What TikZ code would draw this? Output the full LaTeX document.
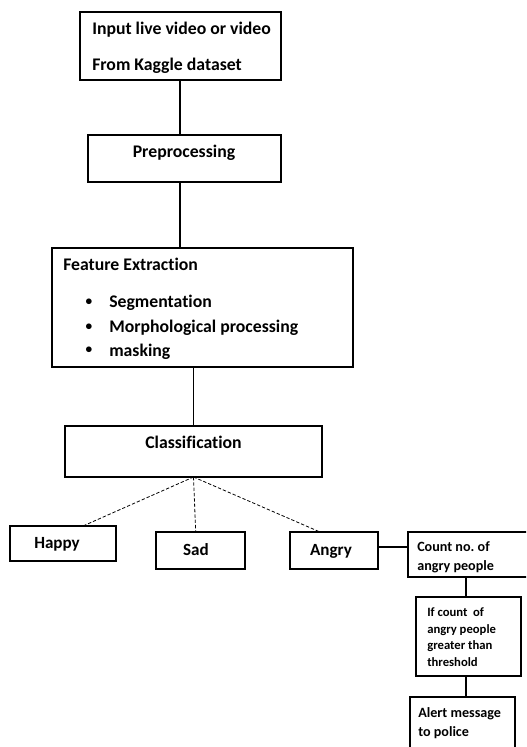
\documentclass[tikz,border=0pt]{standalone}
\usepackage{fontspec}
\setmainfont{Carlito}[Ligatures=NoCommon]
\begin{document}
\begin{tikzpicture}[x=0.75pt,y=-0.75pt,
  box/.style={draw,line width=1.9pt,inner sep=0pt,outer sep=0pt,rectangle},
  txt/.style={anchor=base west,inner sep=0pt,font=\fontsize{13.3}{15}\selectfont\bfseries},
  ctxt/.style={anchor=base,inner sep=0pt,font=\fontsize{13.3}{15}\selectfont\bfseries},
  btxt/.style={anchor=center,inner sep=0pt,font=\fontsize{10}{12}\selectfont\bfseries},
  etxt/.style={anchor=base,inner sep=0pt,font=\fontsize{12.8}{15}\selectfont\bfseries},
  mtxt/.style={anchor=base west,inner sep=0pt,font=\fontsize{10.6}{13}\selectfont\bfseries},
  stxt/.style={anchor=base west,inner sep=0pt,font=\fontsize{9.5}{11}\selectfont\bfseries},
  conn/.style={line width=1.2pt},
  dconn/.style={line width=0.6pt,dash pattern=on 2.5pt off 1.5pt}]
\useasboundingbox (0,0) rectangle (526,747);
\clip (0,0) rectangle (526,747);
\newcommand\mybox[5]{\node[box,minimum width={(#4-#2)*0.75pt},minimum height={(#5-#3)*0.75pt}] (#1) at ({(#2+#4)/2},{(#3+#5)/2}) {};}
\mybox{b1}{80}{12}{281}{80}
\mybox{b2}{88}{135}{281}{182}
\mybox{b3}{52}{248}{353}{367}
\mybox{b4}{65}{426}{322}{477}
\mybox{happy}{10}{526}{116}{561}
\mybox{sad}{156}{532}{245}{569}
\mybox{angry}{290}{532}{378}{569}
\mybox{count}{408}{532}{540}{577}
\mybox{ifb}{416}{597}{521}{676}
\mybox{alert}{410}{697}{515}{770}
% texts
\node[txt] (t1a) at (92,34.3) {Input live video or video};
\node[txt] (t1b) at (92,70) {From Kaggle dataset};
\node[ctxt] (t2) at (184,157.3) {Preprocessing};
\node[txt] (t3) at (63,270) {Feature Extraction};
\node[txt] (t3a) at (109,307.3) {Segmentation};
\node[txt] (t3b) at (109,332.3) {Morphological processing};
\node[txt] (t3c) at (109,356) {masking};
\node[btxt] (u3a) at (89,302) {•};
\node[btxt] (u3b) at (89,327) {•};
\node[btxt] (u3c) at (89,350.5) {•};
\node[ctxt] (t4) at (193.5,448.3) {Classification};
\node[etxt] (th) at (57,548.3) {Happy};
\node[etxt] (ts) at (196,555) {Sad};
\node[etxt] (ta) at (331,555.7) {Angry};
\node[mtxt] (tc1) at (417,551.7) {Count no.\ of};
\node[mtxt] (tc2) at (417,570) {angry people};
\node[stxt] (ti1) at (427,616) {If count\ \ of};
\node[stxt] (ti2) at (427,633) {angry people};
\node[stxt] (ti3) at (427,649) {greater than};
\node[stxt] (ti4) at (427,666) {threshold};
\node[mtxt] (tl1) at (418,717) {Alert message};
\node[mtxt] (tl2) at (418,736) {to police};
% connectors
\draw[conn] ([xshift=-0.4pt]b1.south) -- ([xshift=-0.4pt]b1.south |- b2.north);
\draw[conn] ([xshift=-3.4pt]b2.south) -- ([xshift=-3.4pt]b2.south |- b3.north);
\draw[conn] (b4.north |- b3.south) -- (b4.north);
\draw[dconn] (b4.south) -- ([xshift=15pt]happy.north);
\draw[dconn] (b4.south) -- ([xshift=-3.6pt]sad.north);
\draw[dconn] (b4.south) -- ([xshift=-10.5pt]angry.north);
\draw[conn] ([yshift=2.8pt]angry.east) -- ([yshift=2.8pt]angry.east -| count.west);
\draw[conn] ([xshift=-1.9pt]ifb.north |- count.south) -- ([xshift=-1.9pt]ifb.north);
\draw[conn] ([xshift=-1.9pt]ifb.south) -- ([xshift=-1.9pt]ifb.south |- alert.north);
\end{tikzpicture}
\end{document}
